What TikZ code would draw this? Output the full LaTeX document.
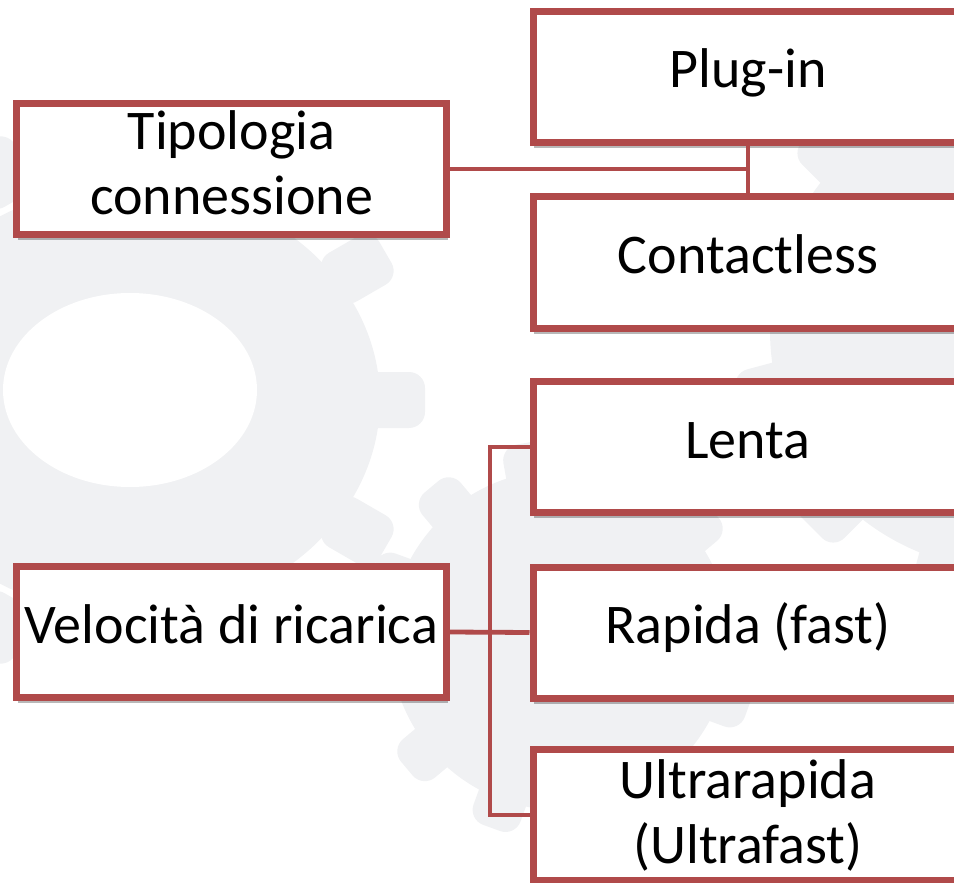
\documentclass[tikz,border=0pt]{standalone}
\usepackage{fontspec}
\setmainfont{Carlito}
\usepackage{tikz}
\usetikzlibrary{shadows}
\definecolor{boxred}{RGB}{176,74,74}
\definecolor{gearbg}{RGB}{240,241,243}
\tikzset{every node/.style={font=\fontsize{28}{32.5}\selectfont}}

\begin{document}
\begin{tikzpicture}[x=0.5pt,y=-0.5pt]
  \tikzstyle{catbox} = [draw=boxred, line width=3.5pt, fill=white, rectangle, minimum width=215pt, minimum height=65.5pt, inner sep=2pt, align=center, drop shadow={shadow xshift=0.6pt, shadow yshift=-2.8pt, fill=black, opacity=0.28}]
  \tikzstyle{leafbox} = [catbox, text height=18pt, text depth=7pt]
  \tikzstyle{link} = [draw=boxred, line width=2.4pt]
  \tikzstyle{tooth} = [gearbg, rounded corners=8pt]

  \useasboundingbox (0,0) rectangle (954,883);
  \clip (0,0) rectangle (954,883);

  % faint gears behind the boxes
  \fill[gearbg] (130,400) ellipse[x radius=250, y radius=215];
  \foreach \a in {0,30,...,330}
    \fill[tooth, rotate around={\a:(130,400)}] (360,372) rectangle (425,428);
  \fill[white] (130,390) ellipse[x radius=127, y radius=97];
  \fill[gearbg] (560,640) circle[radius=170];
  \foreach \a in {10,40,...,340}
    \fill[tooth, rotate around={\a:(560,640)}] (710,615) rectangle (760,665);
  \fill[gearbg] (1010,330) circle[radius=240];
  \foreach \a in {15,45,...,345}
    \fill[tooth, rotate around={\a:(1010,330)}] (1230,300) rectangle (1290,360);

  \node[catbox] (tipo) at (231.5,169) {Tipologia\\connessione\rule[-6pt]{0pt}{0pt}};
  \node[leafbox] (plug) at (748,77) {Plug-in};
  \node[leafbox] (cont) at (748,262.5) {Contactless};

  \node[leafbox] (vel) at (231.5,632) {Velocità di ricarica};
  \node[leafbox] (lenta) at (748,447) {Lenta};
  \node[leafbox] (rap) at (748,632.5) {Rapida (fast)};
  \node[catbox] (ultra) at (748,815) {Ultrarapida\\(Ultrafast)};

  \coordinate (tjoin) at (748,169);
  \draw[link] (tipo.east) -- (tjoin);
  \draw[link] (plug.south) -- (cont.north);

  \coordinate (btop) at (490,447);
  \coordinate (bbot) at (490,815);
  \draw[link] (lenta.west) -- (btop) -- (bbot) -- (ultra.west);
  \draw[link] (vel.east) -- (rap.west);
\end{tikzpicture}
\end{document}
